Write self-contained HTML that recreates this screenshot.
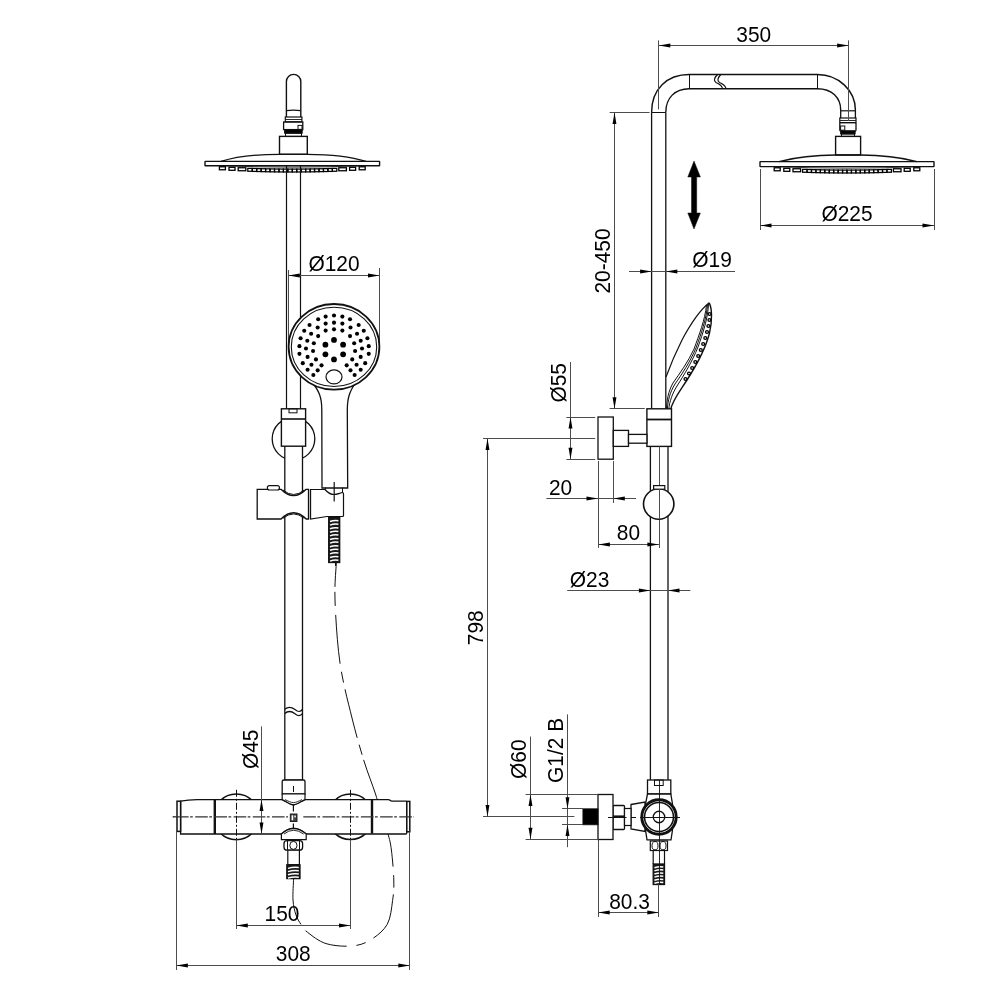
<!DOCTYPE html>
<html><head><meta charset="utf-8"><style>
html,body{margin:0;padding:0;background:#fff;}
svg{display:block;will-change:transform;}
text{font-family:"Liberation Sans",sans-serif;fill:#000;}
</style></head><body>
<svg width="1000" height="1000" viewBox="0 0 1000 1000">
<rect width="1000" height="1000" fill="#fff"/>
<path d="M336.4,562 C336.17,568.33 334.4,583.17 335,600 C335.6,616.83 337.17,643.33 340,663 C342.83,682.67 348,701.67 352,718 C356,734.33 360.08,748.33 364,761 C367.92,773.67 372.5,784.67 375.5,794 C378.5,803.33 380.92,813.17 382,817" fill="none" stroke="#111" stroke-width="1.0" stroke-dasharray="25 5 14 9 49 8 11 7 50 7 10.5 5.5 60 8"/>
<path d="M293.6,879 C293.5,882.5 292.6,894 293,900 C293.4,906 294.6,910.83 296,915 C297.4,919.17 299.5,922.13 301.4,925 C303.3,927.87 303.3,929.1 307.4,932.2 C311.5,935.3 318.6,941.3 326,943.6 C333.4,945.9 344.4,946.6 351.8,946 C359.2,945.4 364.5,943.6 370.4,940 C376.3,936.4 383.5,931 387.2,924.4 C390.9,917.8 391.5,907.8 392.6,900.4 C393.7,893 394,888.4 393.8,880 C393.6,871.6 392.37,857.67 391.4,850 C390.43,842.33 389.57,839.5 388,834 C386.43,828.5 383,819.83 382,817" fill="none" stroke="#111" stroke-width="1.0" stroke-dasharray="47 8 45 9.6 10 9 50 7 12.6 8.4 60 8"/>
<path d="M286.4,117 V81.6 A7.2,7.2 0 0 1 300.8,81.6 V117" fill="none" stroke="#111" stroke-width="1.4" />
<path d="M286.4,110.6 Q293.6,109.6 300.8,110.6" fill="none" stroke="#111" stroke-width="1.1" />
<rect x="285.3" y="117" width="16.6" height="4.8" rx="0" fill="none" stroke="#111" stroke-width="1.2"/>
<line x1="285.3" y1="119.5" x2="301.9" y2="119.5" stroke="#111" stroke-width="0.9" />
<rect x="283.6" y="122" width="19.2" height="7.6" rx="0" fill="none" stroke="#111" stroke-width="1.3"/>
<rect x="298" y="125.4" width="4" height="4" rx="0" fill="none" stroke="#111" stroke-width="1.0"/>
<rect x="284.6" y="129.6" width="17.6" height="3.6" rx="0" fill="#000" stroke="#111" stroke-width="1.0"/>
<rect x="285.5" y="133.2" width="16" height="3.2" rx="0" fill="none" stroke="#111" stroke-width="1.0"/>
<rect x="279.5" y="136.4" width="27.8" height="17.9" rx="0" fill="none" stroke="#111" stroke-width="1.4"/>
<path d="M221,161.4 C238,156 256,154.3 279.5,154.3 H307.3 C331,154.3 349,156 366,161.4" fill="none" stroke="#111" stroke-width="1.3" />
<rect x="205" y="161.4" width="174.6" height="4.4" rx="0.4" fill="none" stroke="#111" stroke-width="1.4"/>
<path d="M219.4,165.6 Q292.3,168.8 365.2,165.6" fill="none" stroke="#111" stroke-width="0.8" />
<rect x="219.4" y="166.78" width="6" height="3" fill="none" stroke="#000" stroke-width="1.3"/>
<rect x="359.2" y="166.78" width="6" height="3" fill="none" stroke="#000" stroke-width="1.3"/>
<rect x="229" y="167.29" width="6" height="3" fill="none" stroke="#000" stroke-width="1.3"/>
<rect x="349.6" y="167.29" width="6" height="3" fill="none" stroke="#000" stroke-width="1.3"/>
<rect x="238.2" y="167.75" width="7.6" height="3" fill="none" stroke="#000" stroke-width="1.3"/>
<rect x="338.8" y="167.75" width="7.6" height="3" fill="none" stroke="#000" stroke-width="1.3"/>
<rect x="247.8" y="168.36" width="4.45" height="2.9" fill="none" stroke="#000" stroke-width="1.25"/>
<rect x="252.25" y="168.51" width="4.45" height="2.9" fill="none" stroke="#000" stroke-width="1.25"/>
<rect x="256.7" y="168.64" width="4.45" height="2.9" fill="none" stroke="#000" stroke-width="1.25"/>
<rect x="261.15" y="168.75" width="4.45" height="2.9" fill="none" stroke="#000" stroke-width="1.25"/>
<rect x="265.6" y="168.85" width="4.45" height="2.9" fill="none" stroke="#000" stroke-width="1.25"/>
<rect x="270.05" y="168.93" width="4.45" height="2.9" fill="none" stroke="#000" stroke-width="1.25"/>
<rect x="274.5" y="169" width="4.45" height="2.9" fill="none" stroke="#000" stroke-width="1.25"/>
<rect x="278.95" y="169.05" width="4.45" height="2.9" fill="none" stroke="#000" stroke-width="1.25"/>
<rect x="283.4" y="169.08" width="4.45" height="2.9" fill="none" stroke="#000" stroke-width="1.25"/>
<rect x="287.85" y="169.1" width="4.45" height="2.9" fill="none" stroke="#000" stroke-width="1.25"/>
<rect x="292.3" y="169.1" width="4.45" height="2.9" fill="none" stroke="#000" stroke-width="1.25"/>
<rect x="296.75" y="169.08" width="4.45" height="2.9" fill="none" stroke="#000" stroke-width="1.25"/>
<rect x="301.2" y="169.05" width="4.45" height="2.9" fill="none" stroke="#000" stroke-width="1.25"/>
<rect x="305.65" y="169" width="4.45" height="2.9" fill="none" stroke="#000" stroke-width="1.25"/>
<rect x="310.1" y="168.93" width="4.45" height="2.9" fill="none" stroke="#000" stroke-width="1.25"/>
<rect x="314.55" y="168.85" width="4.45" height="2.9" fill="none" stroke="#000" stroke-width="1.25"/>
<rect x="319" y="168.75" width="4.45" height="2.9" fill="none" stroke="#000" stroke-width="1.25"/>
<rect x="323.45" y="168.64" width="4.45" height="2.9" fill="none" stroke="#000" stroke-width="1.25"/>
<rect x="327.9" y="168.51" width="4.45" height="2.9" fill="none" stroke="#000" stroke-width="1.25"/>
<rect x="332.35" y="168.36" width="4.45" height="2.9" fill="none" stroke="#000" stroke-width="1.25"/>
<line x1="286.5" y1="165.8" x2="286.5" y2="408.8" stroke="#111" stroke-width="1.2" />
<line x1="300.5" y1="165.8" x2="300.5" y2="408.8" stroke="#111" stroke-width="1.2" />
<line x1="288.5" y1="270" x2="288.5" y2="349" stroke="#4d4d4d" stroke-width="1.0" />
<line x1="379.5" y1="268" x2="379.5" y2="349" stroke="#4d4d4d" stroke-width="1.0" />
<line x1="288.3" y1="275.5" x2="379.5" y2="275.5" stroke="#4d4d4d" stroke-width="1.0" />
<path d="M288.3,275.5 L299.8,273.55 L299.8,277.45 Z" fill="#000"/>
<path d="M379.5,275.5 L368,277.45 L368,273.55 Z" fill="#000"/>
<text transform="translate(334,271.4) scale(0.93,1)" x="0" y="0" text-anchor="middle" font-size="22.5">Ø120</text>
<path d="M312,382 C319,391 321.8,397 321.8,410 L322,488 H347.7 L347.3,410 C347.3,397 350,391 356,382" fill="#fff" stroke="#111" stroke-width="1.3" />
<ellipse cx="334" cy="346.8" rx="45.4" ry="42.8" fill="#fff" stroke="#111" stroke-width="1.8"/>
<ellipse cx="334" cy="346.9" rx="42.7" ry="39.6" fill="none" stroke="#111" stroke-width="1.1"/>
<circle cx="334" cy="339.9" r="2.9" fill="#000"/>
<circle cx="325.4" cy="344.7" r="2.9" fill="#000"/>
<circle cx="343.1" cy="344.7" r="2.9" fill="#000"/>
<circle cx="325.4" cy="354.3" r="2.9" fill="#000"/>
<circle cx="343.1" cy="354.3" r="2.9" fill="#000"/>
<circle cx="334" cy="359.4" r="2.9" fill="#000"/>
<circle cx="334" cy="315.44" r="2.05" fill="#000"/>
<circle cx="325.65" cy="316.59" r="2.05" fill="#000"/>
<circle cx="342.35" cy="316.59" r="2.05" fill="#000"/>
<circle cx="318.16" cy="319.28" r="2.05" fill="#000"/>
<circle cx="350.03" cy="319.28" r="2.05" fill="#000"/>
<circle cx="325.65" cy="323.6" r="2.05" fill="#000"/>
<circle cx="334" cy="322.64" r="2.05" fill="#000"/>
<circle cx="342.35" cy="323.6" r="2.05" fill="#000"/>
<circle cx="309.52" cy="325.04" r="2.05" fill="#000"/>
<circle cx="358.67" cy="325.04" r="2.05" fill="#000"/>
<circle cx="317.68" cy="327.44" r="2.05" fill="#000"/>
<circle cx="350.51" cy="327.44" r="2.05" fill="#000"/>
<circle cx="334" cy="329.36" r="2.05" fill="#000"/>
<circle cx="325.65" cy="330.61" r="2.05" fill="#000"/>
<circle cx="342.35" cy="330.61" r="2.05" fill="#000"/>
<circle cx="304.24" cy="330.8" r="2.05" fill="#000"/>
<circle cx="363.76" cy="330.8" r="2.05" fill="#000"/>
<circle cx="311.15" cy="333.68" r="2.05" fill="#000"/>
<circle cx="357.04" cy="333.68" r="2.05" fill="#000"/>
<circle cx="318.16" cy="336.08" r="2.05" fill="#000"/>
<circle cx="350.03" cy="336.08" r="2.05" fill="#000"/>
<circle cx="300.59" cy="338.29" r="2.05" fill="#000"/>
<circle cx="367.41" cy="338.29" r="2.05" fill="#000"/>
<circle cx="307.31" cy="340.69" r="2.05" fill="#000"/>
<circle cx="360.69" cy="340.69" r="2.05" fill="#000"/>
<circle cx="313.84" cy="343.28" r="2.05" fill="#000"/>
<circle cx="354.16" cy="343.28" r="2.05" fill="#000"/>
<circle cx="299.44" cy="346.16" r="2.05" fill="#000"/>
<circle cx="368.75" cy="346.16" r="2.05" fill="#000"/>
<circle cx="305.97" cy="348.56" r="2.05" fill="#000"/>
<circle cx="362.03" cy="348.56" r="2.05" fill="#000"/>
<circle cx="313.07" cy="350.96" r="2.05" fill="#000"/>
<circle cx="355.12" cy="350.96" r="2.05" fill="#000"/>
<circle cx="299.44" cy="353.84" r="2.05" fill="#000"/>
<circle cx="368.75" cy="353.84" r="2.05" fill="#000"/>
<circle cx="307.6" cy="356.91" r="2.05" fill="#000"/>
<circle cx="360.69" cy="356.91" r="2.05" fill="#000"/>
<circle cx="315.95" cy="359.41" r="2.05" fill="#000"/>
<circle cx="352.24" cy="359.41" r="2.05" fill="#000"/>
<circle cx="302.8" cy="363.15" r="2.05" fill="#000"/>
<circle cx="365.2" cy="363.15" r="2.05" fill="#000"/>
<circle cx="311.44" cy="364.69" r="2.05" fill="#000"/>
<circle cx="356.56" cy="364.69" r="2.05" fill="#000"/>
<circle cx="321.52" cy="365.36" r="2.05" fill="#000"/>
<circle cx="346.67" cy="365.36" r="2.05" fill="#000"/>
<circle cx="307.6" cy="369.68" r="2.05" fill="#000"/>
<circle cx="360.69" cy="369.68" r="2.05" fill="#000"/>
<circle cx="317.68" cy="370.35" r="2.05" fill="#000"/>
<circle cx="350.51" cy="370.35" r="2.05" fill="#000"/>
<circle cx="313.36" cy="374.96" r="2.05" fill="#000"/>
<circle cx="354.64" cy="374.96" r="2.05" fill="#000"/>
<ellipse cx="334" cy="376.9" rx="8" ry="7" fill="none" stroke="#111" stroke-width="1.2"/>
<circle cx="293.5" cy="438.8" r="21.3" fill="#fff" stroke="#111" stroke-width="1.3"/>
<rect x="281.4" y="408.8" width="24.2" height="37.4" rx="0" fill="#fff" stroke="#111" stroke-width="1.4"/>
<line x1="281.4" y1="419" x2="305.6" y2="419" stroke="#111" stroke-width="1.6" />
<rect x="289" y="408.8" width="8" height="4" rx="0" fill="none" stroke="#111" stroke-width="1.0"/>
<rect x="284.8" y="447" width="17.7" height="333" fill="#fff" stroke="none"/>
<line x1="284.8" y1="446.2" x2="284.8" y2="780" stroke="#111" stroke-width="1.3" />
<line x1="302.5" y1="446.2" x2="302.5" y2="780" stroke="#111" stroke-width="1.3" />
<path d="M257.2,489.3 H281 Q293.6,502 306.2,489.3 H308.5 V519 H306.2 Q293.6,506.5 281,519 H257.2 Z" fill="#fff" stroke="#111" stroke-width="1.3" />
<path d="M283,490 Q293.6,499 304.2,490" fill="none" stroke="#111" stroke-width="1.0" />
<path d="M283,518.3 Q293.6,509.6 304.2,518.3" fill="none" stroke="#111" stroke-width="1.0" />
<path d="M310.5,489.5 H325 C328,493 331,494.5 334,494.5 C337,494.5 340,493 342.5,492.5 Q343.5,492.5 343.5,494 V515.5 Q343.5,516.5 342.5,516.5 H327 L310.5,519 Z" fill="#fff" stroke="#111" stroke-width="1.2" />
<line x1="310.5" y1="489.3" x2="310.5" y2="519" stroke="#111" stroke-width="1.1" />
<line x1="342.5" y1="487.5" x2="342.5" y2="492.5" stroke="#111" stroke-width="1.0" />
<line x1="325.5" y1="487.5" x2="325.5" y2="489.5" stroke="#111" stroke-width="1.0" />
<rect x="267.4" y="485.6" width="12" height="4.4" rx="2" fill="#fff" stroke="#111" stroke-width="1.2"/>
<line x1="334.2" y1="482" x2="334.2" y2="501.4" stroke="#111" stroke-width="1.2" />
<rect x="328.7" y="517" width="11" height="45.5" rx="0" fill="#1a1a1a" stroke="#111" stroke-width="1.3"/>
<path d="M330,521.5 Q334.2,519.9 338.4,520.7" fill="none" stroke="#fff" stroke-width="1.5"/>
<path d="M330,525.1 Q334.2,523.5 338.4,524.3" fill="none" stroke="#fff" stroke-width="1.5"/>
<path d="M330,528.7 Q334.2,527.1 338.4,527.9" fill="none" stroke="#fff" stroke-width="1.5"/>
<path d="M330,532.3 Q334.2,530.7 338.4,531.5" fill="none" stroke="#fff" stroke-width="1.5"/>
<path d="M330,535.9 Q334.2,534.3 338.4,535.1" fill="none" stroke="#fff" stroke-width="1.5"/>
<path d="M330,539.5 Q334.2,537.9 338.4,538.7" fill="none" stroke="#fff" stroke-width="1.5"/>
<path d="M330,543.1 Q334.2,541.5 338.4,542.3" fill="none" stroke="#fff" stroke-width="1.5"/>
<path d="M330,546.7 Q334.2,545.1 338.4,545.9" fill="none" stroke="#fff" stroke-width="1.5"/>
<path d="M330,550.3 Q334.2,548.7 338.4,549.5" fill="none" stroke="#fff" stroke-width="1.5"/>
<path d="M330,553.9 Q334.2,552.3 338.4,553.1" fill="none" stroke="#fff" stroke-width="1.5"/>
<path d="M330,557.5 Q334.2,555.9 338.4,556.7" fill="none" stroke="#fff" stroke-width="1.5"/>
<path d="M330,561.1 Q334.2,559.5 338.4,560.3" fill="none" stroke="#fff" stroke-width="1.5"/>
<line x1="335.5" y1="562.5" x2="335.5" y2="566" stroke="#111" stroke-width="1.0" />
<path d="M284.8,709.2 C288,706.5 291,706.5 295,709.5 C298,712 300,712.5 302.5,709.5" fill="none" stroke="#111" stroke-width="1.3" />
<path d="M284.8,713.4 C288,710.7 291,710.7 295,713.7 C298,716.2 300,716.7 302.5,713.7" fill="none" stroke="#111" stroke-width="1.3" />
<circle cx="236.3" cy="816.8" r="22.9" fill="#fff" stroke="#111" stroke-width="1.5"/>
<circle cx="350.4" cy="816.8" r="22.7" fill="#fff" stroke="#111" stroke-width="1.5"/>
<path d="M180.6,801.2 Q188,800 197,799.6 H282.2 C286.5,801.5 290,804.8 293.4,804.8 C297,804.8 300.5,801.5 305,799.6 H388.2 C390,799.4 390,801.2 392,801.2 H405.8 Q406.8,801.2 406.8,802.4 V832.8 Q406.8,834 405.6,834 H306.2 Q293.4,823 281.4,834 H180.6 Z" fill="#fff" stroke="#111" stroke-width="1.3" />
<rect x="177" y="801.2" width="3.6" height="30.2" rx="0" fill="#fff" stroke="#111" stroke-width="1.5"/>
<rect x="406.8" y="801.4" width="3" height="30.4" rx="0" fill="#fff" stroke="#111" stroke-width="1.5"/>
<line x1="214.8" y1="799.6" x2="214.8" y2="834" stroke="#111" stroke-width="2.4" />
<line x1="372" y1="799.2" x2="372" y2="833.6" stroke="#111" stroke-width="2.4" />
<path d="M284.6,780 H302.6" fill="none" stroke="#111" stroke-width="1.0" />
<path d="M282.2,794 V781.5 Q282.2,780 284,780 H303.5 Q305,780 305,781.5 V794 Z" fill="#fff" stroke="#111" stroke-width="1.3" />
<path d="M282.2,794 H305 V799.6 C300.5,801.5 297,804.8 293.4,804.8 C290,804.8 286.5,801.5 282.2,799.6 Z" fill="#fff" stroke="#111" stroke-width="1.2" />
<path d="M285,799.6 C288,801 291,802.6 293.4,802.6 C296,802.6 299,801 302,799.6" fill="none" stroke="#111" stroke-width="0.9" />
<path d="M281.4,834 Q293.4,823 306.2,834 V839.6 H281.4 Z" fill="#fff" stroke="#111" stroke-width="1.2" />
<path d="M284,834 Q293.4,826.5 303.6,834" fill="none" stroke="#111" stroke-width="0.9" />
<rect x="284" y="840.6" width="18.6" height="9.6" rx="3" fill="#fff" stroke="#111" stroke-width="1.3"/>
<ellipse cx="293.4" cy="845.4" rx="3.6" ry="4" fill="none" stroke="#111" stroke-width="1.0"/>
<line x1="287.5" y1="841" x2="287.5" y2="850" stroke="#111" stroke-width="1.0" />
<line x1="299.5" y1="841" x2="299.5" y2="850" stroke="#111" stroke-width="1.0" />
<rect x="287.8" y="850.2" width="11.6" height="14.6" rx="0" fill="#fff" stroke="#111" stroke-width="1.2"/>
<rect x="286.8" y="864.8" width="13.2" height="13.8" rx="0" fill="#1a1a1a" stroke="#111" stroke-width="1.3"/>
<path d="M288,868.4 Q293.4,866.8 298.8,867.6" fill="none" stroke="#fff" stroke-width="1.5"/>
<path d="M288,871.6 Q293.4,870 298.8,870.8" fill="none" stroke="#fff" stroke-width="1.5"/>
<path d="M288,874.8 Q293.4,873.2 298.8,874" fill="none" stroke="#fff" stroke-width="1.5"/>
<path d="M288,878 Q293.4,876.4 298.8,877.2" fill="none" stroke="#fff" stroke-width="1.5"/>
<line x1="172.8" y1="816.8" x2="288" y2="816.8" stroke="#333" stroke-width="1.3" stroke-dasharray="12.6 1.5 2.7 2.4" stroke-dashoffset="16"/>
<line x1="172.8" y1="816.8" x2="177" y2="816.8" stroke="#333" stroke-width="1.3" />
<line x1="301" y1="816.8" x2="413.8" y2="816.8" stroke="#333" stroke-width="1.3" stroke-dasharray="12.6 1.5 2.7 2.4" stroke-dashoffset="16.9"/>
<line x1="236.5" y1="789.8" x2="236.5" y2="839.6" stroke="#111" stroke-width="1.0" stroke-dasharray="7 2 2 2"/>
<line x1="350.5" y1="789.8" x2="350.5" y2="839.6" stroke="#111" stroke-width="1.0" stroke-dasharray="7 2 2 2"/>
<line x1="293.5" y1="786" x2="293.5" y2="792" stroke="#111" stroke-width="1.0" />
<line x1="293.4" y1="804" x2="293.4" y2="811.5" stroke="#111" stroke-width="1.2" />
<line x1="293.4" y1="823.5" x2="293.4" y2="829" stroke="#111" stroke-width="1.2" />
<rect x="290.3" y="814" width="6.7" height="7.5" rx="0" fill="#444" stroke="#111" stroke-width="0.9"/>
<rect x="291.6" y="815.3" width="1.6" height="4.9" rx="0" fill="#fff" stroke="#111" stroke-width="0"/>
<rect x="294.2" y="815.6" width="1.8" height="1.8" rx="0" fill="#ddd" stroke="#111" stroke-width="0"/>
<line x1="236.5" y1="839.6" x2="236.5" y2="929" stroke="#4d4d4d" stroke-width="1.0" />
<line x1="350.5" y1="839.6" x2="350.5" y2="929" stroke="#4d4d4d" stroke-width="1.0" />
<line x1="236.3" y1="925.5" x2="350.5" y2="925.5" stroke="#4d4d4d" stroke-width="1.0" />
<path d="M236.3,925.5 L247.8,923.55 L247.8,927.45 Z" fill="#000"/>
<path d="M350.5,925.5 L339,927.45 L339,923.55 Z" fill="#000"/>
<text transform="translate(282,921.2) scale(0.93,1)" x="0" y="0" text-anchor="middle" font-size="22.5">150</text>
<line x1="176.5" y1="831.4" x2="176.5" y2="970" stroke="#4d4d4d" stroke-width="1.0" />
<line x1="409.5" y1="831.8" x2="409.5" y2="970" stroke="#4d4d4d" stroke-width="1.0" />
<line x1="176.4" y1="965.5" x2="409.8" y2="965.5" stroke="#4d4d4d" stroke-width="1.0" />
<path d="M176.4,965.5 L187.9,963.55 L187.9,967.45 Z" fill="#000"/>
<path d="M409.8,965.5 L398.3,967.45 L398.3,963.55 Z" fill="#000"/>
<text transform="translate(293.2,961.2) scale(0.93,1)" x="0" y="0" text-anchor="middle" font-size="22.5">308</text>
<line x1="261.5" y1="726.4" x2="261.5" y2="834" stroke="#4d4d4d" stroke-width="1.0" />
<path d="M261.5,799.6 L263.45,811.1 L259.55,811.1 Z" fill="#000"/>
<path d="M261.5,834 L259.55,822.5 L263.45,822.5 Z" fill="#000"/>
<text transform="translate(258,749.3) rotate(-90) scale(0.93,1)" x="0" y="0" text-anchor="middle" font-size="22.5">Ø45</text>
<line x1="651.6" y1="112.2" x2="651.6" y2="408.8" stroke="#111" stroke-width="1.3" />
<line x1="665.8" y1="112.2" x2="665.8" y2="408.8" stroke="#111" stroke-width="1.3" />
<line x1="651.6" y1="112.5" x2="665.8" y2="112.5" stroke="#111" stroke-width="1.0" />
<path d="M651.6,112.2 C651.6,89 667,74.5 689.2,74.5 H817.4 C839,74.5 855.4,91 855.4,110" fill="none" stroke="#111" stroke-width="1.4" />
<path d="M665.8,112.2 C665.8,98 675,88.7 689.2,88.7 H817.4 C832,88.7 840.7,98 840.7,110" fill="none" stroke="#111" stroke-width="1.4" />
<line x1="689.5" y1="74.5" x2="689.5" y2="88.7" stroke="#111" stroke-width="1.0" />
<line x1="817.5" y1="74.5" x2="817.5" y2="88.7" stroke="#111" stroke-width="1.0" />
<path d="M717.5,74.5 C714,78 713.5,81 716,82.5 C719,84 722,85 722.5,88.7" fill="none" stroke="#111" stroke-width="1.2" />
<path d="M720.8,74.5 C717.5,78 717,81 719.5,82.5 C722.5,84 725.5,85 726,88.7" fill="none" stroke="#111" stroke-width="1.2" />
<line x1="840.7" y1="110.8" x2="855.4" y2="110.8" stroke="#111" stroke-width="1.2" />
<line x1="840.7" y1="110" x2="840.7" y2="118" stroke="#111" stroke-width="1.3" />
<line x1="855.4" y1="110" x2="855.4" y2="118" stroke="#111" stroke-width="1.3" />
<rect x="839.8" y="118" width="16.2" height="4.6" rx="0" fill="none" stroke="#111" stroke-width="1.2"/>
<line x1="839.8" y1="120.5" x2="856" y2="120.5" stroke="#111" stroke-width="0.9" />
<rect x="839.8" y="122.6" width="16.2" height="8.4" rx="1" fill="none" stroke="#111" stroke-width="1.3"/>
<rect x="840.6" y="126" width="4.2" height="4.2" rx="0" fill="none" stroke="#111" stroke-width="1.0"/>
<rect x="840.6" y="131" width="14.6" height="3" rx="0" fill="#000" stroke="#111" stroke-width="0.8"/>
<rect x="841.5" y="134" width="13" height="2.4" rx="0" fill="none" stroke="#111" stroke-width="1.0"/>
<rect x="835.6" y="136.4" width="25" height="18.6" rx="0" fill="none" stroke="#111" stroke-width="1.4"/>
<path d="M779,161.6 C797,157 815,155 835.6,155 H860.6 C881,155 899,157 917,161.6" fill="none" stroke="#111" stroke-width="1.3" />
<rect x="760" y="161.6" width="174" height="5" rx="0.4" fill="none" stroke="#111" stroke-width="1.4"/>
<path d="M774.2,166.6 Q847,169.8 919.8,166.6" fill="none" stroke="#111" stroke-width="0.8" />
<rect x="774.2" y="167.78" width="6" height="3" fill="none" stroke="#000" stroke-width="1.3"/>
<rect x="913.8" y="167.78" width="6" height="3" fill="none" stroke="#000" stroke-width="1.3"/>
<rect x="783.8" y="168.3" width="6" height="3" fill="none" stroke="#000" stroke-width="1.3"/>
<rect x="904.2" y="168.3" width="6" height="3" fill="none" stroke="#000" stroke-width="1.3"/>
<rect x="793" y="168.75" width="7.6" height="3" fill="none" stroke="#000" stroke-width="1.3"/>
<rect x="893.4" y="168.75" width="7.6" height="3" fill="none" stroke="#000" stroke-width="1.3"/>
<rect x="802.6" y="169.36" width="4.44" height="2.9" fill="none" stroke="#000" stroke-width="1.25"/>
<rect x="807.04" y="169.51" width="4.44" height="2.9" fill="none" stroke="#000" stroke-width="1.25"/>
<rect x="811.48" y="169.64" width="4.44" height="2.9" fill="none" stroke="#000" stroke-width="1.25"/>
<rect x="815.92" y="169.75" width="4.44" height="2.9" fill="none" stroke="#000" stroke-width="1.25"/>
<rect x="820.36" y="169.85" width="4.44" height="2.9" fill="none" stroke="#000" stroke-width="1.25"/>
<rect x="824.8" y="169.93" width="4.44" height="2.9" fill="none" stroke="#000" stroke-width="1.25"/>
<rect x="829.24" y="170" width="4.44" height="2.9" fill="none" stroke="#000" stroke-width="1.25"/>
<rect x="833.68" y="170.05" width="4.44" height="2.9" fill="none" stroke="#000" stroke-width="1.25"/>
<rect x="838.12" y="170.08" width="4.44" height="2.9" fill="none" stroke="#000" stroke-width="1.25"/>
<rect x="842.56" y="170.1" width="4.44" height="2.9" fill="none" stroke="#000" stroke-width="1.25"/>
<rect x="847" y="170.1" width="4.44" height="2.9" fill="none" stroke="#000" stroke-width="1.25"/>
<rect x="851.44" y="170.08" width="4.44" height="2.9" fill="none" stroke="#000" stroke-width="1.25"/>
<rect x="855.88" y="170.05" width="4.44" height="2.9" fill="none" stroke="#000" stroke-width="1.25"/>
<rect x="860.32" y="170" width="4.44" height="2.9" fill="none" stroke="#000" stroke-width="1.25"/>
<rect x="864.76" y="169.93" width="4.44" height="2.9" fill="none" stroke="#000" stroke-width="1.25"/>
<rect x="869.2" y="169.85" width="4.44" height="2.9" fill="none" stroke="#000" stroke-width="1.25"/>
<rect x="873.64" y="169.75" width="4.44" height="2.9" fill="none" stroke="#000" stroke-width="1.25"/>
<rect x="878.08" y="169.64" width="4.44" height="2.9" fill="none" stroke="#000" stroke-width="1.25"/>
<rect x="882.52" y="169.51" width="4.44" height="2.9" fill="none" stroke="#000" stroke-width="1.25"/>
<rect x="886.96" y="169.36" width="4.44" height="2.9" fill="none" stroke="#000" stroke-width="1.25"/>
<line x1="760.5" y1="169" x2="760.5" y2="230" stroke="#4d4d4d" stroke-width="1.0" />
<line x1="934.5" y1="169" x2="934.5" y2="230" stroke="#4d4d4d" stroke-width="1.0" />
<line x1="760" y1="225.5" x2="934" y2="225.5" stroke="#4d4d4d" stroke-width="1.0" />
<path d="M760,225.5 L771.5,223.55 L771.5,227.45 Z" fill="#000"/>
<path d="M934,225.5 L922.5,227.45 L922.5,223.55 Z" fill="#000"/>
<text transform="translate(847,221.3) scale(0.93,1)" x="0" y="0" text-anchor="middle" font-size="22.5">Ø225</text>
<line x1="658.5" y1="40.4" x2="658.5" y2="109.4" stroke="#4d4d4d" stroke-width="1.0" />
<line x1="848.5" y1="40.4" x2="848.5" y2="121" stroke="#4d4d4d" stroke-width="1.0" />
<line x1="658.8" y1="45.5" x2="848.6" y2="45.5" stroke="#4d4d4d" stroke-width="1.0" />
<path d="M658.8,45.5 L670.3,43.55 L670.3,47.45 Z" fill="#000"/>
<path d="M848.6,45.5 L837.1,47.45 L837.1,43.55 Z" fill="#000"/>
<text transform="translate(753.7,41.9) scale(0.93,1)" x="0" y="0" text-anchor="middle" font-size="22.5">350</text>
<line x1="609.6" y1="112.5" x2="649.6" y2="112.5" stroke="#4d4d4d" stroke-width="1.0" />
<line x1="609.6" y1="408.5" x2="644.8" y2="408.5" stroke="#4d4d4d" stroke-width="1.0" />
<line x1="614.5" y1="112.4" x2="614.5" y2="408.8" stroke="#4d4d4d" stroke-width="1.0" />
<path d="M614.5,112.4 L616.45,123.9 L612.55,123.9 Z" fill="#000"/>
<path d="M614.5,408.8 L612.55,397.3 L616.45,397.3 Z" fill="#000"/>
<text transform="translate(610.2,261) rotate(-90) scale(0.93,1)" x="0" y="0" text-anchor="middle" font-size="22.5">20-450</text>
<path d="M694,161 L700.4,177 H696.7 V213 H700.4 L694,229 L687.8,213 H691.5 V177 H687.8 Z" fill="#000" stroke="#111" stroke-width="0.5" />
<line x1="629" y1="271.5" x2="735" y2="271.5" stroke="#4d4d4d" stroke-width="1.0" />
<path d="M651.6,271.5 L640.1,273.45 L640.1,269.55 Z" fill="#000"/>
<path d="M665.8,271.5 L677.3,269.55 L677.3,273.45 Z" fill="#000"/>
<text transform="translate(712,266.7) scale(0.93,1)" x="0" y="0" text-anchor="middle" font-size="22.5">Ø19</text>
<path d="M709.2,302.8 C700,310 690,325 682,340 C676,352 670,366 666,377" fill="none" stroke="#111" stroke-width="1.2" />
<path d="M709.2,302.8 C712,308 712.5,320 709.5,333 C705.5,349 696,366 687,380 C680,391 672.5,400 670.5,410" fill="none" stroke="#111" stroke-width="1.4" />
<path d="M708.5,304 C708,318 703,333 698,347 C692,362 684,375 677,386 C672,394 669.5,402 668.8,409" fill="none" stroke="#111" stroke-width="1.0" />
<path d="M707.5,304.5 C706.5,319 701,334 696,348 C690,362 682,374 675,384 C670,392 667.8,401 667.4,409" fill="none" stroke="#111" stroke-width="1.0" />
<path d="M706.5,305 C705,320 699,335 694,349 C688,362 680,373 673,383 C668.5,391 666.8,400 666.4,409" fill="none" stroke="#111" stroke-width="1.0" />
<circle cx="709.6" cy="314" r="1.45" fill="#fff" stroke="#000" stroke-width="1.3"/>
<circle cx="709.4" cy="320" r="1.45" fill="#fff" stroke="#000" stroke-width="1.3"/>
<circle cx="708.4" cy="326" r="1.45" fill="#fff" stroke="#000" stroke-width="1.3"/>
<circle cx="707" cy="332" r="1.45" fill="#fff" stroke="#000" stroke-width="1.3"/>
<circle cx="705.3" cy="338" r="1.45" fill="#fff" stroke="#000" stroke-width="1.3"/>
<circle cx="703.2" cy="344" r="1.45" fill="#fff" stroke="#000" stroke-width="1.3"/>
<circle cx="700.8" cy="350" r="1.45" fill="#fff" stroke="#000" stroke-width="1.3"/>
<circle cx="698.2" cy="356" r="1.45" fill="#fff" stroke="#000" stroke-width="1.3"/>
<circle cx="695.3" cy="362" r="1.45" fill="#fff" stroke="#000" stroke-width="1.3"/>
<circle cx="692.2" cy="368" r="1.45" fill="#fff" stroke="#000" stroke-width="1.3"/>
<circle cx="689" cy="373.5" r="1.45" fill="#fff" stroke="#000" stroke-width="1.3"/>
<circle cx="685.5" cy="379" r="1.45" fill="#fff" stroke="#000" stroke-width="1.3"/>
<rect x="646.9" y="408.8" width="24.6" height="37.6" rx="0" fill="#fff" stroke="#111" stroke-width="1.4"/>
<line x1="646.9" y1="419.5" x2="671.5" y2="419.5" stroke="#111" stroke-width="1.8" />
<rect x="598" y="417" width="15.3" height="42.2" rx="0" fill="#fff" stroke="#111" stroke-width="1.3"/>
<rect x="613.3" y="430.4" width="15.2" height="16" rx="0" fill="#fff" stroke="#111" stroke-width="1.3"/>
<rect x="628.5" y="434.4" width="18.4" height="8.8" rx="0" fill="#fff" stroke="#111" stroke-width="1.3"/>
<line x1="570.5" y1="362" x2="570.5" y2="459.2" stroke="#4d4d4d" stroke-width="1.0" />
<line x1="566.4" y1="417.5" x2="595.2" y2="417.5" stroke="#4d4d4d" stroke-width="1.0" />
<line x1="566.4" y1="459.5" x2="595.2" y2="459.5" stroke="#4d4d4d" stroke-width="1.0" />
<path d="M570.5,417 L572.45,428.5 L568.55,428.5 Z" fill="#000"/>
<path d="M570.5,459.2 L568.55,447.7 L572.45,447.7 Z" fill="#000"/>
<text transform="translate(566.4,382.8) rotate(-90) scale(0.93,1)" x="0" y="0" text-anchor="middle" font-size="22.5">Ø55</text>
<line x1="483" y1="438.5" x2="595.2" y2="438.5" stroke="#4d4d4d" stroke-width="1.0" />
<line x1="483" y1="816.5" x2="574.4" y2="816.5" stroke="#4d4d4d" stroke-width="1.0" />
<line x1="487.5" y1="438.4" x2="487.5" y2="816.5" stroke="#4d4d4d" stroke-width="1.0" />
<path d="M487.5,438.4 L489.45,449.9 L485.55,449.9 Z" fill="#000"/>
<path d="M487.5,816.5 L485.55,805 L489.45,805 Z" fill="#000"/>
<text transform="translate(482.8,627.7) rotate(-90) scale(0.93,1)" x="0" y="0" text-anchor="middle" font-size="22.5">798</text>
<line x1="598.5" y1="461" x2="598.5" y2="548" stroke="#4d4d4d" stroke-width="1.0" />
<line x1="613.5" y1="461" x2="613.5" y2="503" stroke="#4d4d4d" stroke-width="1.0" />
<line x1="546.4" y1="498.5" x2="636" y2="498.5" stroke="#4d4d4d" stroke-width="1.0" />
<path d="M598,498.5 L586.5,500.45 L586.5,496.55 Z" fill="#000"/>
<path d="M613.3,498.5 L624.8,496.55 L624.8,500.45 Z" fill="#000"/>
<text transform="translate(560.6,495.4) scale(0.93,1)" x="0" y="0" text-anchor="middle" font-size="22.5">20</text>
<line x1="650.4" y1="446.4" x2="650.4" y2="780" stroke="#111" stroke-width="1.3" />
<line x1="668" y1="446.4" x2="668" y2="780" stroke="#111" stroke-width="1.3" />
<line x1="659.5" y1="446.4" x2="659.5" y2="548" stroke="#4d4d4d" stroke-width="1.0" />
<circle cx="658.7" cy="504" r="15.2" fill="#fff" stroke="#111" stroke-width="1.6"/>
<rect x="653.6" y="485.6" width="11.2" height="3.6" rx="0" fill="#fff" stroke="#111" stroke-width="1.2"/>
<line x1="659.5" y1="489" x2="659.5" y2="519.2" stroke="#4d4d4d" stroke-width="1.0" />
<line x1="598.4" y1="544.5" x2="658.9" y2="544.5" stroke="#4d4d4d" stroke-width="1.0" />
<path d="M598.4,544.5 L609.9,542.55 L609.9,546.45 Z" fill="#000"/>
<path d="M658.9,544.5 L647.4,546.45 L647.4,542.55 Z" fill="#000"/>
<text transform="translate(628.5,540.2) scale(0.93,1)" x="0" y="0" text-anchor="middle" font-size="22.5">80</text>
<line x1="567.2" y1="590.5" x2="690.4" y2="590.5" stroke="#4d4d4d" stroke-width="1.0" />
<path d="M650.4,590.5 L638.9,592.45 L638.9,588.55 Z" fill="#000"/>
<path d="M668,590.5 L679.5,588.55 L679.5,592.45 Z" fill="#000"/>
<text transform="translate(589.6,587.1) scale(0.93,1)" x="0" y="0" text-anchor="middle" font-size="22.5">Ø23</text>
<rect x="647.5" y="780" width="23.3" height="14" rx="0" fill="#fff" stroke="#111" stroke-width="1.3"/>
<rect x="654.5" y="780" width="8.7" height="5.5" rx="0" fill="none" stroke="#111" stroke-width="1.0"/>
<path d="M647.5,794 L645.5,804 V830 L647,839.8 H671 L672.5,830 V804 L670.8,794 Z" fill="#fff" stroke="#111" stroke-width="1.3" />
<path d="M631,804.5 L645,802 V831.5 L631,829 Z" fill="#fff" stroke="#111" stroke-width="1.3" />
<circle cx="659" cy="817" r="17.2" fill="#fff" stroke="#111" stroke-width="2.9"/>
<circle cx="659" cy="817" r="14.5" fill="none" stroke="#111" stroke-width="1.6"/>
<circle cx="659" cy="817" r="5.75" fill="none" stroke="#111" stroke-width="1.3"/>
<rect x="650.3" y="841" width="17.2" height="9.5" rx="0" fill="#fff" stroke="#111" stroke-width="1.2"/>
<ellipse cx="655" cy="845.7" rx="3" ry="4.2" fill="none" stroke="#111" stroke-width="1.0"/>
<ellipse cx="663" cy="845.7" rx="3" ry="4.2" fill="none" stroke="#111" stroke-width="1.0"/>
<line x1="653.2" y1="850.5" x2="653.2" y2="864" stroke="#111" stroke-width="1.2" />
<line x1="664.5" y1="850.5" x2="664.5" y2="864" stroke="#111" stroke-width="1.2" />
<rect x="653.2" y="864" width="11.3" height="20.5" rx="0" fill="#1a1a1a" stroke="#111" stroke-width="1.3"/>
<path d="M654.4,867.8 Q658.9,866.2 663.3,867" fill="none" stroke="#fff" stroke-width="1.5"/>
<path d="M654.4,870.9 Q658.9,869.3 663.3,870.1" fill="none" stroke="#fff" stroke-width="1.5"/>
<path d="M654.4,874 Q658.9,872.4 663.3,873.2" fill="none" stroke="#fff" stroke-width="1.5"/>
<path d="M654.4,877.1 Q658.9,875.5 663.3,876.3" fill="none" stroke="#fff" stroke-width="1.5"/>
<path d="M654.4,880.2 Q658.9,878.6 663.3,879.4" fill="none" stroke="#fff" stroke-width="1.5"/>
<path d="M654.4,883.3 Q658.9,881.7 663.3,882.5" fill="none" stroke="#fff" stroke-width="1.5"/>
<rect x="613" y="805.5" width="11.5" height="24" rx="1" fill="#fff" stroke="#111" stroke-width="1.3"/>
<line x1="613" y1="816.5" x2="624.5" y2="816.5" stroke="#111" stroke-width="2.2" />
<rect x="624.5" y="808.5" width="6.5" height="17" rx="0" fill="#fff" stroke="#111" stroke-width="1.2"/>
<rect x="598" y="794.5" width="15" height="45" rx="0" fill="#fff" stroke="#111" stroke-width="1.3"/>
<rect x="582.9" y="808.8" width="15.1" height="16" rx="0" fill="#000" stroke="#111" stroke-width="0.8"/>
<line x1="608" y1="817.5" x2="680" y2="817.5" stroke="#111" stroke-width="1.0" stroke-dasharray="18.5 4.5 5 4 60"/>
<line x1="659.5" y1="780" x2="659.5" y2="884" stroke="#111" stroke-width="0.9" />
<line x1="530.5" y1="736.5" x2="530.5" y2="839.2" stroke="#4d4d4d" stroke-width="1.0" />
<line x1="525.6" y1="794.5" x2="598" y2="794.5" stroke="#4d4d4d" stroke-width="1.0" />
<line x1="525.6" y1="839.5" x2="598" y2="839.5" stroke="#4d4d4d" stroke-width="1.0" />
<path d="M530.5,794.4 L532.45,805.9 L528.55,805.9 Z" fill="#000"/>
<path d="M530.5,839.2 L528.55,827.7 L532.45,827.7 Z" fill="#000"/>
<text transform="translate(526.4,759.2) rotate(-90) scale(0.93,1)" x="0" y="0" text-anchor="middle" font-size="22.5">Ø60</text>
<line x1="567.5" y1="714.4" x2="567.5" y2="847.2" stroke="#4d4d4d" stroke-width="1.0" />
<line x1="562" y1="808.5" x2="583" y2="808.5" stroke="#4d4d4d" stroke-width="1.0" />
<line x1="562" y1="824.5" x2="583" y2="824.5" stroke="#4d4d4d" stroke-width="1.0" />
<path d="M567.5,808.8 L565.55,797.3 L569.45,797.3 Z" fill="#000"/>
<path d="M567.5,824.5 L569.45,836 L565.55,836 Z" fill="#000"/>
<text transform="translate(563.2,750.4) rotate(-90) scale(0.93,1)" x="0" y="0" text-anchor="middle" font-size="22.5">G1/2 B</text>
<line x1="598.5" y1="839.5" x2="598.5" y2="917" stroke="#4d4d4d" stroke-width="1.0" />
<line x1="658.5" y1="884.5" x2="658.5" y2="917" stroke="#4d4d4d" stroke-width="1.0" />
<line x1="598.2" y1="912.5" x2="658.8" y2="912.5" stroke="#4d4d4d" stroke-width="1.0" />
<path d="M598.2,912.5 L609.7,910.55 L609.7,914.45 Z" fill="#000"/>
<path d="M658.8,912.5 L647.3,914.45 L647.3,910.55 Z" fill="#000"/>
<text transform="translate(629.6,909.2) scale(0.93,1)" x="0" y="0" text-anchor="middle" font-size="22.5">80.3</text>
</svg></body></html>
